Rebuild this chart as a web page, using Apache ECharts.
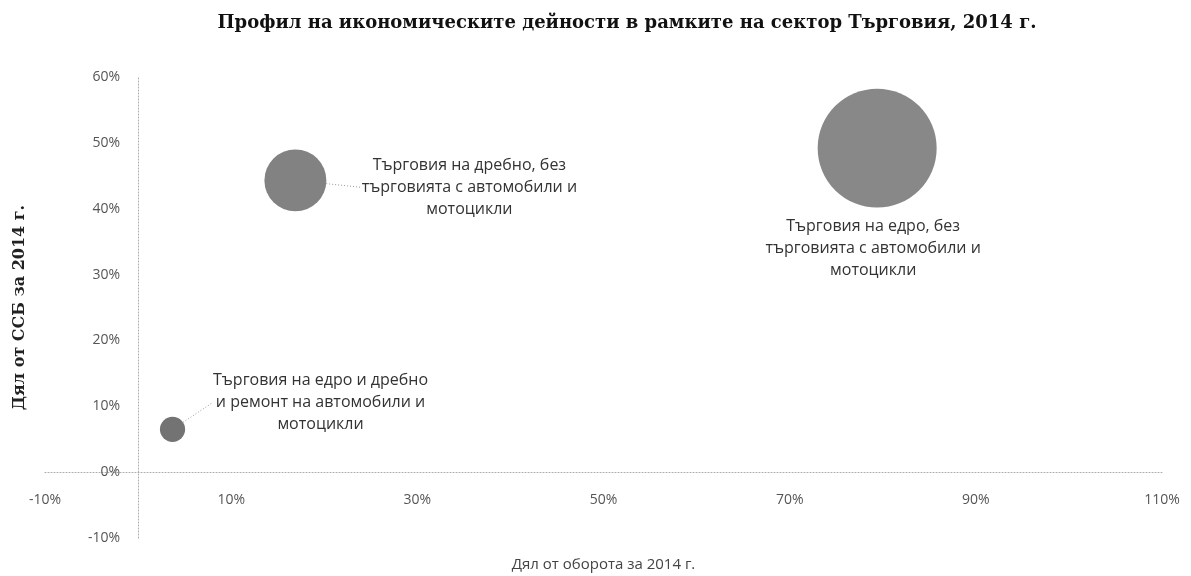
<!DOCTYPE html>
<html>
<head>
<meta charset="utf-8">
<script src="https://cdn.jsdelivr.net/npm/echarts@6/dist/echarts.min.js"></script>
<style>
html,body{margin:0;padding:0;background:#fff}
#chart{width:1191px;height:576px}
</style>
</head>
<body>
<div id="chart"></div>
<script>
// данни - дял от оборота, дял от ССБ, размер на балона
var names = [
    'Търговия на едро и дребно\nи ремонт на автомобили и\nмотоцикли',
    'Търговия на дребно, без\nтърговията с автомобили и\nмотоцикли',
    'Търговия на едро, без\nтърговията с автомобили и\nмотоцикли'
];
var turnover = [3.7, 16.9, 79.4];
var gva = [6.5, 44.3, 49.2];
var bubble = [3.4, 20.6, 76.0];
var xTicks = [-10, 10, 30, 50, 70, 90, 110];

var colors = ['#737373', '#828282', '#888888'];
var labelOffsets = [[148, -27], [174, 7], [-4, 100]];

var data = [];
for (var i = 0; i < names.length; i++) {
    data.push({
        name: names[i],
        value: [turnover[i], gva[i], bubble[i]],
        itemStyle: {color: colors[i], opacity: 1},
        labelLine: {show: i < 2}
    });
}

var myChart = echarts.init(document.getElementById('chart'));
var option = {
    animation: false,
    title: {
        text: 'Профил на икономическите дейности в рамките на сектор Търговия, 2014 г.',
        left: 622,
        textAlign: 'center',
        top: 9,
        textStyle: {fontFamily: 'DejaVu Serif', fontWeight: 'bold', fontSize: 18, color: '#111'}
    },
    grid: {left: 45, right: 29, top: 77, bottom: 38, outerBoundsMode: 'none', containLabel: false},
    xAxis: {
        type: 'value',
        min: -10,
        max: 110,
        // оста е на 0% - преместваме я нагоре
        offset: -66,
        name: 'Дял от оборота за 2014 г.',
        nameLocation: 'middle',
        nameGap: 85,
        nameTextStyle: {fontFamily: 'Open Sans', fontSize: 15, color: '#444'},
        axisLine: {onZero: false, lineStyle: {color: '#aaa', type: [1, 2]}},
        axisTick: {show: false},
        splitLine: {show: false},
        axisLabel: {
            customValues: xTicks,
            formatter: '{value}%',
            margin: 21,
            fontFamily: 'Open Sans',
            fontSize: 14,
            color: '#555'
        }
    },
    yAxis: {
        type: 'value',
        min: -10,
        max: 60,
        interval: 10,
        offset: -93,
        name: 'Дял от ССБ за 2014 г.',
        nameLocation: 'middle',
        nameGap: 110,
        nameTextStyle: {fontFamily: 'DejaVu Serif', fontWeight: 'bold', fontSize: 16, color: '#222'},
        axisLine: {onZero: false, lineStyle: {color: '#aaa', type: [1, 2]}},
        axisTick: {show: false},
        splitLine: {show: false},
        axisLabel: {
            formatter: '{value}%',
            margin: 18,
            fontFamily: 'Open Sans',
            fontSize: 14,
            color: '#555'
        }
    },
    series: [{
        type: 'scatter',
        data: data,
        symbolSize: function (val) {
            return Math.sqrt(val[2]) * 13.65;
        },
        label: {
            show: true,
            position: 'inside',
            formatter: '{b}',
            align: 'center',
            lineHeight: 22,
            fontFamily: 'Open Sans',
            fontSize: 16,
            color: '#333'
        },
        labelLine: {
            show: true,
            lineStyle: {color: '#999', type: [1, 2], width: 1}
        },
        labelLayout: function (params) {
            var o = labelOffsets[params.dataIndex];
            return {dx: o[0], dy: o[1]};
        }
    }]
};
myChart.setOption(option);
</script>
</body>
</html>
